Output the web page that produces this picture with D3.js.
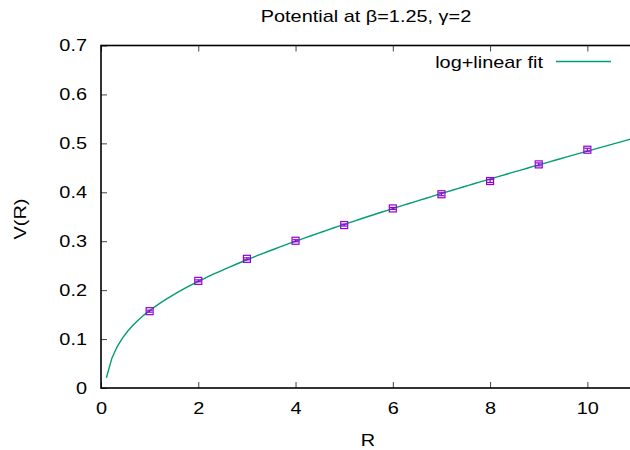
<!DOCTYPE html>
<html>
<head>
<meta charset="utf-8">
<script src="https://cdn.jsdelivr.net/npm/d3@7"></script>
<style>
  html, body { margin: 0; padding: 0; background: #fff; }
  svg { display: block; font-family: "Liberation Sans", Arial, sans-serif; }
</style>
</head>
<body>
<svg id="chart" width="630" height="450"></svg>
<script>
// Static potential measurements
const radii    = [1, 2, 3, 4, 5, 6, 7, 8, 9, 10];
const potential = [0.157, 0.219, 0.264, 0.301, 0.333, 0.367, 0.396, 0.423, 0.457, 0.487];
const errors   = [0.002, 0.002, 0.002, 0.002, 0.002, 0.002, 0.003, 0.003, 0.003, 0.003];
const xTicks = [0, 2, 4, 6, 8, 10];
const yTicks = [0, 0.1, 0.2, 0.3, 0.4, 0.5, 0.6, 0.7];
const titleText = "Potential at \u03b2=1.25, \u03b3=2";
const fitLabel = "log+linear fit";

// Plot frame
const frame = { left: 101, right: 636, top: 45.5, bottom: 388 };
const x = d3.scaleLinear().domain([0, 11]).range([frame.left, frame.right]);
const y = d3.scaleLinear().domain([0, 0.7]).range([frame.bottom, frame.top]);

const svg = d3.select("#chart");
const fitColor = "#009e73", ptColor = "#9400d3";
const fontSize = "17px";
const stretch = 1.17;   // wide-set text, as in the terminal font

// Least-squares fit of V(R) = a + b ln R + s R
function fitLogLinear(xs, ys) {
  const basis = r => [1, Math.log(r), r];
  const M = [[0,0,0],[0,0,0],[0,0,0]], v = [0,0,0];
  xs.forEach((r, i) => {
    const f = basis(r);
    for (let j = 0; j < 3; j++) {
      v[j] += f[j] * ys[i];
      for (let k = 0; k < 3; k++) M[j][k] += f[j] * f[k];
    }
  });
  for (let c = 0; c < 3; c++) {
    for (let r = c + 1; r < 3; r++) {
      const m = M[r][c] / M[c][c];
      for (let k = c; k < 3; k++) M[r][k] -= m * M[c][k];
      v[r] -= m * v[c];
    }
  }
  const p = [0,0,0];
  for (let r = 2; r >= 0; r--) {
    let s = v[r];
    for (let k = r + 1; k < 3; k++) s -= M[r][k] * p[k];
    p[r] = s / M[r][r];
  }
  return p;
}
const [fa, fb, fs] = fitLogLinear(radii, potential);
const fitFn = r => fa + fb * Math.log(r) + fs * r;

// Sample the fitted curve across the x range (skip R = 0)
const nSamples = 100;
const curve = d3.range(1, nSamples).map(i => {
  const r = 11 * i / (nSamples - 1);
  return [r, fitFn(r)];
});

svg.append("clipPath").attr("id", "plotClip")
  .append("rect").attr("x", frame.left).attr("y", frame.top)
  .attr("width", frame.right - frame.left).attr("height", frame.bottom - frame.top);

// Text helper: places a horizontally stretched label at (px, py)
function label(parent, px, py, txt, anchor, rotate) {
  const g = parent.append("g")
    .attr("transform", `translate(${px},${py})` + (rotate ? ` rotate(${rotate})` : ""));
  g.append("text").attr("transform", `scale(${stretch},1)`)
    .attr("text-anchor", anchor).style("font-size", fontSize).attr("fill", "#000").text(txt);
  return g;
}

// Axes (ticks point inward, mirrored on top/right)
const tickLen = 6;
const axG = svg.append("g");
const xAxisB = d3.axisBottom(x).tickValues(xTicks).tickSize(-tickLen).tickPadding(14).tickFormat(d3.format("d"));
const xAxisT = d3.axisTop(x).tickValues(xTicks).tickSize(-tickLen).tickFormat("");
const yAxisL = d3.axisLeft(y).tickValues(yTicks).tickSize(-tickLen).tickPadding(14)
  .tickFormat(d => d === 0 ? "0" : d3.format(".1f")(d));
const yAxisR = d3.axisRight(y).tickValues(yTicks).tickSize(-tickLen).tickFormat("");

function styleAxis(g) {
  g.select(".domain").remove();
  g.selectAll(".tick line").attr("stroke", "#444").attr("stroke-width", 1);
  g.selectAll(".tick text").attr("fill", "#000").style("font-size", fontSize)
    .style("font-family", "Liberation Sans, Arial, sans-serif")
    .each(function () {
      const t = d3.select(this);
      const tx = +t.attr("x") || 0;
      t.attr("x", tx / stretch).attr("transform", `scale(${stretch},1)`);
    });
}
axG.append("g").attr("transform", `translate(0,${frame.bottom})`).call(xAxisB).call(styleAxis);
axG.append("g").attr("transform", `translate(0,${frame.top})`).call(xAxisT).call(styleAxis);
axG.append("g").attr("transform", `translate(${frame.left},0)`).call(yAxisL).call(styleAxis);
axG.append("g").attr("transform", `translate(${frame.right},0)`).call(yAxisR).call(styleAxis);

// Border
svg.append("rect").attr("x", frame.left).attr("y", frame.top)
  .attr("width", frame.right - frame.left).attr("height", frame.bottom - frame.top)
  .attr("fill", "none").attr("stroke", "#000").attr("stroke-width", 1.6);

// Fit curve
const line = d3.line().x(d => x(d[0])).y(d => y(d[1]));
svg.append("path").datum(curve)
  .attr("clip-path", "url(#plotClip)")
  .attr("d", line).attr("fill", "none")
  .attr("stroke", fitColor).attr("stroke-width", 1.4);

// Data points with error bars
const pts = svg.append("g").attr("stroke", ptColor).attr("fill", "none").attr("stroke-width", 1.2);
radii.forEach((r, i) => {
  const cx = x(r), v = potential[i], e = errors[i];
  const y1 = y(v - e), y2 = y(v + e);
  pts.append("line").attr("x1", cx).attr("x2", cx).attr("y1", y1).attr("y2", y2);
  pts.append("line").attr("x1", cx - 3).attr("x2", cx + 3).attr("y1", y1).attr("y2", y1);
  pts.append("line").attr("x1", cx - 3).attr("x2", cx + 3).attr("y1", y2).attr("y2", y2);
  pts.append("rect").attr("x", cx - 3.5).attr("y", y(v) - 3.5).attr("width", 7).attr("height", 7);
});

// Key
label(svg, 543, 68, fitLabel, "end");
svg.append("line").attr("x1", 556).attr("x2", 611).attr("y1", 61.5).attr("y2", 61.5)
  .attr("stroke", fitColor).attr("stroke-width", 1.4);

// Title and axis labels
label(svg, 366, 22, titleText, "middle");
label(svg, 368, 446, "R", "middle");
label(svg, 26, 219, "V(R)", "middle", -90);
</script>
</body>
</html>
